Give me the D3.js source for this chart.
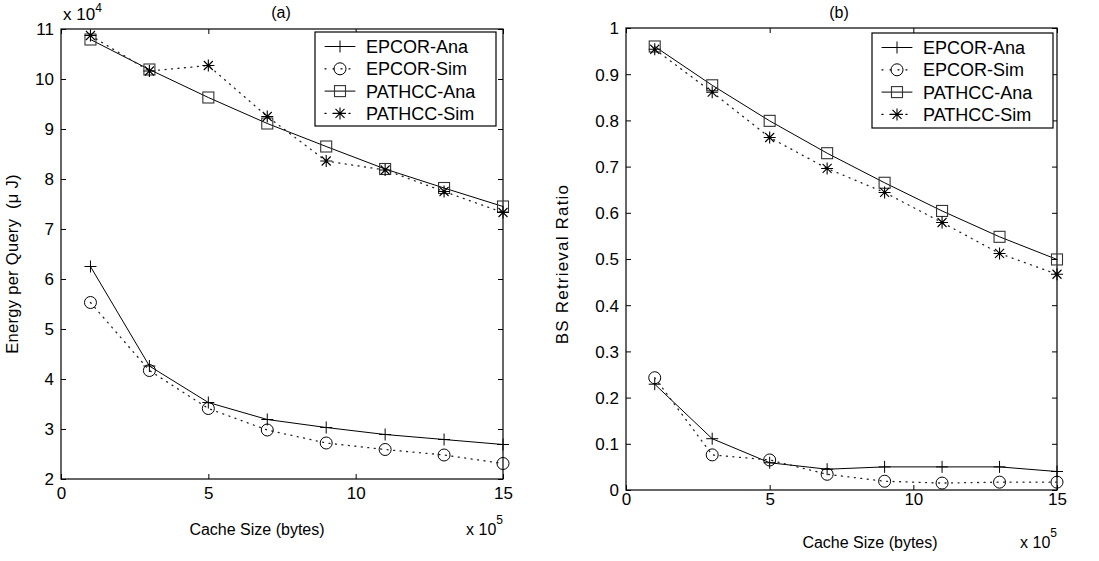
<!DOCTYPE html>
<html><head><meta charset="utf-8">
<script src="https://cdn.jsdelivr.net/npm/d3@7"></script>
<style>
body{margin:0;background:#fff;}
text{font-family:"Liberation Sans",Arial,Helvetica,sans-serif;fill:#000;}
</style></head>
<body><svg id="c" width="1099" height="561"></svg>
<script>
// Cache size in units of 10^5 bytes
const cacheSizes = [1, 3, 5, 7, 9, 11, 13, 15];
const seriesNames = ["EPCOR-Ana", "EPCOR-Sim", "PATHCC-Ana", "PATHCC-Sim"];
// (a) Energy per query, units of 10^4 μJ
const energyEpcorAna  = [6.25, 4.26, 3.53, 3.19, 3.03, 2.89, 2.79, 2.69];
const energyEpcorSim  = [5.53, 4.17, 3.41, 2.98, 2.72, 2.59, 2.48, 2.31];
const energyPathccAna = [10.79, 10.19, 9.63, 9.11, 8.65, 8.20, 7.82, 7.45];
const energyPathccSim = [10.87, 10.16, 10.27, 9.25, 8.36, 8.18, 7.75, 7.33];
// (b) BS retrieval ratio
const ratioEpcorAna  = [0.229, 0.111, 0.059, 0.045, 0.050, 0.050, 0.050, 0.040];
const ratioEpcorSim  = [0.243, 0.076, 0.065, 0.034, 0.019, 0.015, 0.017, 0.017];
const ratioPathccAna = [0.960, 0.876, 0.799, 0.729, 0.665, 0.604, 0.548, 0.499];
const ratioPathccSim = [0.954, 0.861, 0.763, 0.696, 0.644, 0.579, 0.512, 0.467];
// tick labels
const xTicks = [0, 5, 10, 15];
const yTicksA = [2, 3, 4, 5, 6, 7, 8, 9, 10, 11];
const yTicksB = [0, 0.1, 0.2, 0.3, 0.4, 0.5, 0.6, 0.7, 0.8, 0.9, 1];

const svg = d3.select("#c");
const FS = 17;

const styles = [
  {marker:"plus", dash:null},
  {marker:"circle", dash:"1,5.5"},
  {marker:"square", dash:null},
  {marker:"star", dash:"1,5.5"}
];

function drawMarker(g, type, x, y){
  const s = 6;
  if(type==="plus"){
    g.append("path").attr("d",`M${x-s},${y}H${x+s}M${x},${y-s}V${y+s}`).attr("stroke","#000").attr("stroke-width",1).attr("fill","none");
  } else if(type==="circle"){
    g.append("circle").attr("cx",x).attr("cy",y).attr("r",6).attr("stroke","#000").attr("fill","none").attr("stroke-width",1);
  } else if(type==="square"){
    g.append("rect").attr("x",x-5.5).attr("y",y-5.5).attr("width",11).attr("height",11).attr("stroke","#333").attr("fill","none").attr("stroke-width",1.1);
  } else if(type==="star"){
    const d = 4.5;
    g.append("path").attr("d",`M${x-s},${y}H${x+s}M${x},${y-s}V${y+s}M${x-d},${y-d}L${x+d},${y+d}M${x-d},${y+d}L${x+d},${y-d}`).attr("stroke","#000").attr("stroke-width",1.1).attr("fill","none");
  }
}

function drawPanel(cfg){
  const g = svg.append("g");
  const x = d3.scaleLinear().domain([0,15]).range([cfg.left, cfg.right]);
  const y = d3.scaleLinear().domain(cfg.yDomain).range([cfg.bottom, cfg.top]);
  const tl = 5;
  g.append("rect").attr("x",cfg.left).attr("y",cfg.top).attr("width",cfg.right-cfg.left).attr("height",cfg.bottom-cfg.top)
    .attr("fill","none").attr("stroke","#000").attr("stroke-width",1.2);
  const axB = d3.axisBottom(x).tickValues(xTicks).tickSize(-tl).tickFormat(d3.format("d"));
  const axT = d3.axisTop(x).tickValues(xTicks).tickSize(-tl).tickFormat("");
  const axL = d3.axisLeft(y).tickValues(cfg.yTicks).tickSize(-tl).tickFormat(cfg.yFmt);
  const axR = d3.axisRight(y).tickValues(cfg.yTicks).tickSize(-tl).tickFormat("");
  function style(sel){ sel.select(".domain").remove(); sel.selectAll("line").attr("stroke","#000"); sel.selectAll("text").attr("font-size",FS).attr("font-family",null); }
  g.append("g").attr("transform",`translate(0,${cfg.bottom})`).call(axB).call(style)
    .selectAll("text").attr("dy",null).attr("y",cfg.xLabOff).attr("dominant-baseline","middle");
  g.append("g").attr("transform",`translate(0,${cfg.top})`).call(axT).call(style);
  g.append("g").attr("transform",`translate(${cfg.left},0)`).call(axL).call(style)
    .selectAll("text").attr("x",-7).attr("dy","0.35em");
  g.append("g").attr("transform",`translate(${cfg.right},0)`).call(axR).call(style);

  const line = d3.line().x((d,i)=>x(cacheSizes[i])).y(d=>y(d));
  cfg.series.forEach((vals,k)=>{
    const st = styles[k];
    g.append("path").datum(vals).attr("d",line).attr("fill","none").attr("stroke", st.dash?"#222":"#000")
      .attr("stroke-width", st.dash?1.3:1).attr("stroke-dasharray",st.dash).attr("stroke-linecap","round");
    vals.forEach((v,i)=>drawMarker(g, st.marker, x(cacheSizes[i]), y(v)));
  });

  g.append("text").attr("x",cfg.titleX).attr("y",18).attr("text-anchor","middle").attr("font-size",FS-1).text(cfg.title);
  g.append("text").attr("x",cfg.xLabX).attr("y",cfg.xLabY).attr("text-anchor","middle").attr("font-size",FS-1).text("Cache Size (bytes)");
  const ex = g.append("text").attr("x",cfg.right).attr("y",cfg.xLabY).attr("text-anchor","end").attr("font-size",FS-1);
  ex.append("tspan").text("x 10");
  ex.append("tspan").attr("dy",-11).attr("font-size",12).text("5");
  g.append("text").attr("transform",`translate(${cfg.yLabX},${cfg.yLabY}) rotate(-90)`).attr("text-anchor","middle")
    .attr("font-size",cfg.yLabFS).attr("letter-spacing",cfg.yLabLS).style("white-space","pre").text(cfg.yLabel);
  if(cfg.yExp){
    const ey = g.append("text").attr("x",cfg.left+2).attr("y",20).attr("font-size",FS);
    ey.append("tspan").text("x 10");
    ey.append("tspan").attr("dy",-8).attr("font-size",12).text(cfg.yExp);
  }

  const L = cfg.legend;
  g.append("rect").attr("x",L.x).attr("y",L.y).attr("width",L.w).attr("height",L.h).attr("fill","#fff").attr("stroke","#000").attr("stroke-width",1.2);
  seriesNames.forEach((name,k)=>{
    const cy = L.y + 14.5 + k*22.3;
    const st = styles[k];
    g.append("line").attr("x1",L.x+10).attr("x2",L.x+40).attr("y1",cy).attr("y2",cy).attr("stroke","#000")
      .attr("stroke-width",st.dash?1.3:1).attr("stroke-dasharray",st.dash?"1,7":null).attr("stroke-linecap","round");
    drawMarker(g, st.marker, L.x+25, cy);
    g.append("text").attr("x",L.x+51).attr("y",cy).attr("dy","0.36em").attr("font-size",FS+1).text(name);
  });
}

drawPanel({
  left:61, right:503, top:29, bottom:479, yDomain:[2,11], yTicks:yTicksA, yFmt:d3.format("d"),
  xLabOff:16, title:"(a)", titleX:281, xLabX:257, xLabY:535, yLabX:18, yLabY:264, yLabFS:16.5, yLabLS:0.3,
  yLabel:"Energy per Query  (\u03bc J)", yExp:"4",
  series:[energyEpcorAna, energyEpcorSim, energyPathccAna, energyPathccSim],
  legend:{x:315, y:32, w:181, h:94}
});
drawPanel({
  left:626, right:1057, top:28, bottom:490, yDomain:[0,1], yTicks:yTicksB, yFmt:d=>d===0||d===1?String(d):d3.format(".1f")(d),
  xLabOff:11, title:"(b)", titleX:839, xLabX:870, xLabY:548, yLabX:568, yLabY:264, yLabFS:17, yLabLS:1.2,
  yLabel:"BS Retrieval Ratio", yExp:null,
  series:[ratioEpcorAna, ratioEpcorSim, ratioPathccAna, ratioPathccSim],
  legend:{x:872, y:33, w:181, h:95}
});
</script></body></html>
